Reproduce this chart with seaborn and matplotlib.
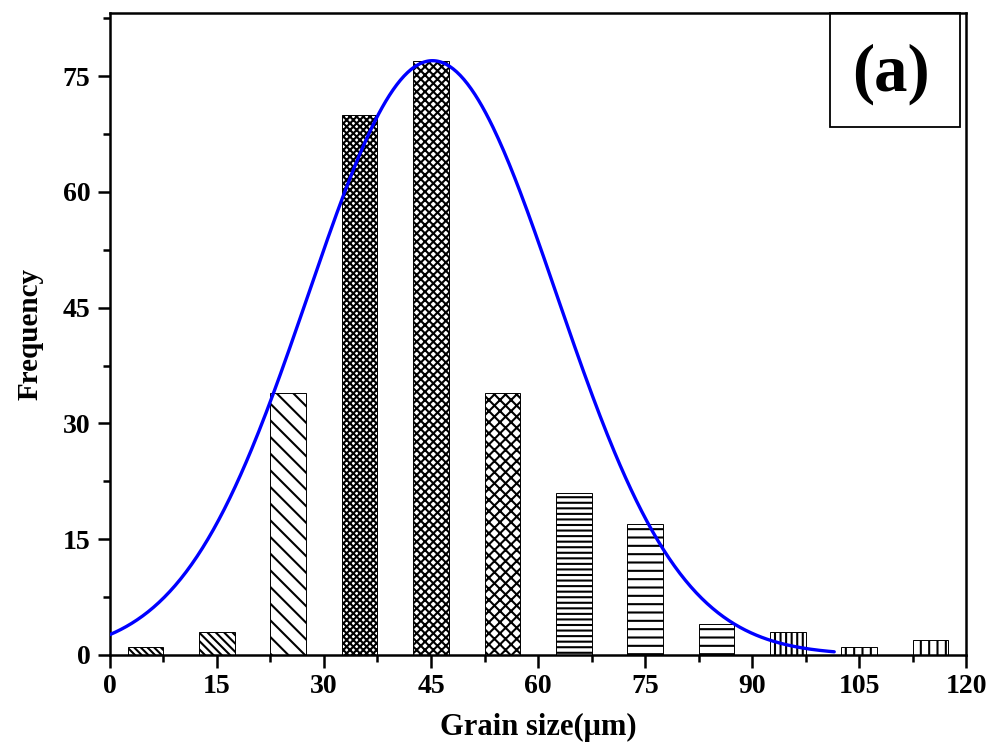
import numpy as np
import pandas as pd
import matplotlib
matplotlib.use("Agg")
import matplotlib.pyplot as plt
from matplotlib.ticker import MultipleLocator
from matplotlib.patches import Rectangle
import seaborn as sns

# Grain-size histogram (bin centres in µm) and counts per bin
bin_centers = [5, 15, 25, 35, 45, 55, 65, 75, 85, 95, 105, 115]
frequency = [1, 3, 34, 70, 77, 34, 21, 17, 4, 3, 1, 2]
bar_hatches = ["\\" * 5, "\\" * 4, "\\" * 2, "x" * 5, "x" * 4, "x" * 3,
               "---", "--", "--", "|||", "||", "||"]

# Gaussian fit parameters
fit_amplitude = 77.0
fit_mean = 45.2
fit_sigma = 17.4
fit_range = (0.0, 101.5)

x_ticks = [0, 15, 30, 45, 60, 75, 90, 105, 120]
y_ticks = [0, 15, 30, 45, 60, 75]

sns.set_style("ticks")
plt.rcParams["font.family"] = ["Liberation Serif", "DejaVu Serif"]
plt.rcParams["font.weight"] = "bold"
plt.rcParams["hatch.linewidth"] = 1.5
for key in ("text.color", "axes.labelcolor", "xtick.color", "ytick.color",
            "axes.edgecolor"):
    plt.rcParams[key] = "black"

fig = plt.figure(figsize=(9.9, 7.55), dpi=100)
ax = fig.add_axes([0.111, 0.1325, 0.865, 0.8505])

df = pd.DataFrame({"size": bin_centers, "freq": frequency})
sns.barplot(data=df, x="size", y="freq", native_scale=True, width=0.5,
            color="white", edgecolor="black", linewidth=0.7,
            errorbar=None, ax=ax, zorder=2)
for patch, h in zip(ax.patches, bar_hatches):
    patch.set_hatch(h)
    patch.set_facecolor("white")

xs = np.linspace(fit_range[0], fit_range[1], 400)
fit_df = pd.DataFrame({
    "x": xs,
    "y": fit_amplitude * np.exp(-(xs - fit_mean) ** 2 / (2 * fit_sigma ** 2)),
})
sns.lineplot(data=fit_df, x="x", y="y", color="#0000ff", linewidth=2.4,
             ax=ax, zorder=3)

ax.set_xlim(0, 120)
ax.set_ylim(0, 83.2)
ax.set_xticks(x_ticks)
ax.set_yticks(y_ticks)
ax.xaxis.set_minor_locator(MultipleLocator(7.5))
ax.yaxis.set_minor_locator(MultipleLocator(7.5))
ax.tick_params(which="major", direction="out", length=9, width=1.8,
               labelsize=20, pad=5)
ax.tick_params(which="minor", direction="out", length=5, width=1.8)
for lab in ax.get_xticklabels() + ax.get_yticklabels():
    lab.set_fontweight("bold")
for sp in ax.spines.values():
    sp.set_visible(True)
    sp.set_linewidth(1.8)

ax.set_xlabel("Grain size(\u03bcm)", fontsize=22, fontweight="bold", labelpad=10)
ax.set_ylabel("Frequency", fontsize=21, fontweight="bold", labelpad=14)

# Panel label box
ax.add_patch(Rectangle((0.841, 0.822), 0.152, 0.178, transform=ax.transAxes,
                       fill=False, edgecolor="black", linewidth=1.3,
                       zorder=5, clip_on=False))
ax.text(0.9125, 0.905, "(a)", transform=ax.transAxes, ha="center",
        va="center", fontsize=48, fontweight="bold", zorder=6)

fig.savefig("out.png", dpi=100)
